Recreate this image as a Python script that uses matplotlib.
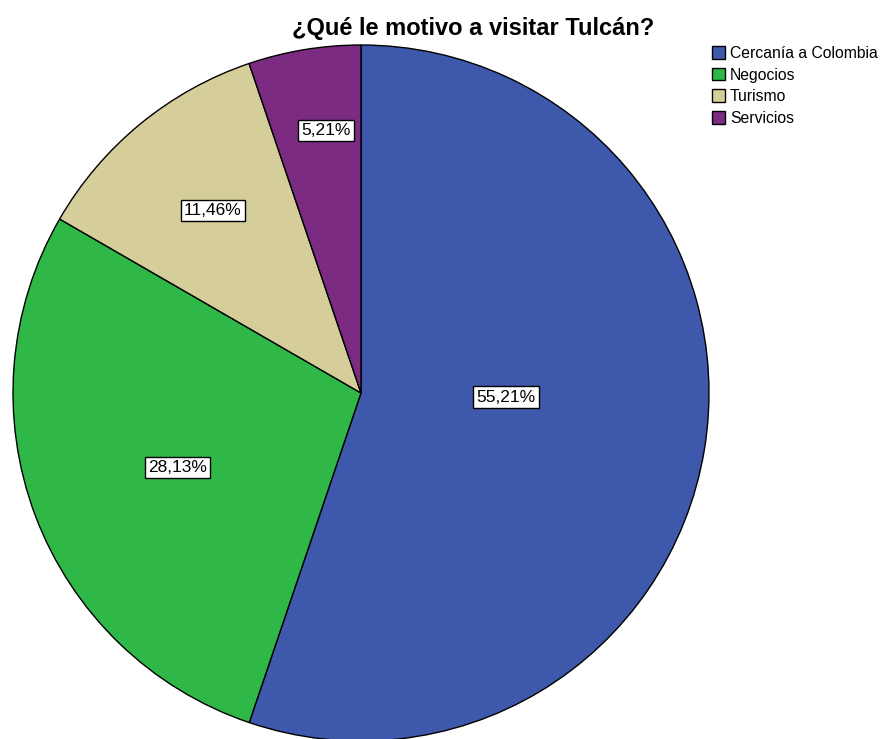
import matplotlib
matplotlib.use("Agg")
import matplotlib.pyplot as plt
import numpy as np

plt.rcParams['font.family'] = ['Liberation Sans', 'DejaVu Sans']

categories = ["Cercanía a Colombia", "Negocios", "Turismo", "Servicios"]
values = [55.21, 28.13, 11.46, 5.21]
pct_labels = ["55,21%", "28,13%", "11,46%", "5,21%"]
colors = ["#3E58AC", "#2FB847", "#D5CE9B", "#7B2C82"]
# label placement (angle in degrees, radius fraction)
label_angle = [-1.6, 202.0, 129.1, 97.6]
label_radius = [0.417, 0.57, 0.675, 0.76]

W, H = 883, 739
fig = plt.figure(figsize=(W / 100, H / 100), dpi=100)
cx, cy, R = 361, 393, 348
ax = fig.add_axes([(cx - R) / W, (H - cy - R) / H, 2 * R / W, 2 * R / H])

wedges, _ = ax.pie(values, colors=colors, startangle=90, counterclock=False,
                   radius=1, wedgeprops=dict(edgecolor='black', linewidth=1.0))
ax.set_xlim(-1, 1)
ax.set_ylim(-1, 1)

for lab, ang, r in zip(pct_labels, label_angle, label_radius):
    a = np.deg2rad(ang)
    ax.text(r * np.cos(a), r * np.sin(a), lab, ha='center', va='center', fontsize=12.5,
            bbox=dict(boxstyle='square,pad=0.18', fc='white', ec='black', lw=1.0))

fig.text(473 / W, 1 - 28 / H, "¿Qué le motivo a visitar Tulcán?", ha='center', va='center',
         fontsize=17, fontweight='bold')

fig.legend(wedges, categories, loc='upper left', bbox_to_anchor=(712 / W, 1 - 46 / H),
           frameon=False, handlelength=0.85, handleheight=0.85, handletextpad=0.3,
           labelspacing=0.42, borderaxespad=0, borderpad=0, fontsize=11.3)

fig.savefig("out.png", dpi=100)
